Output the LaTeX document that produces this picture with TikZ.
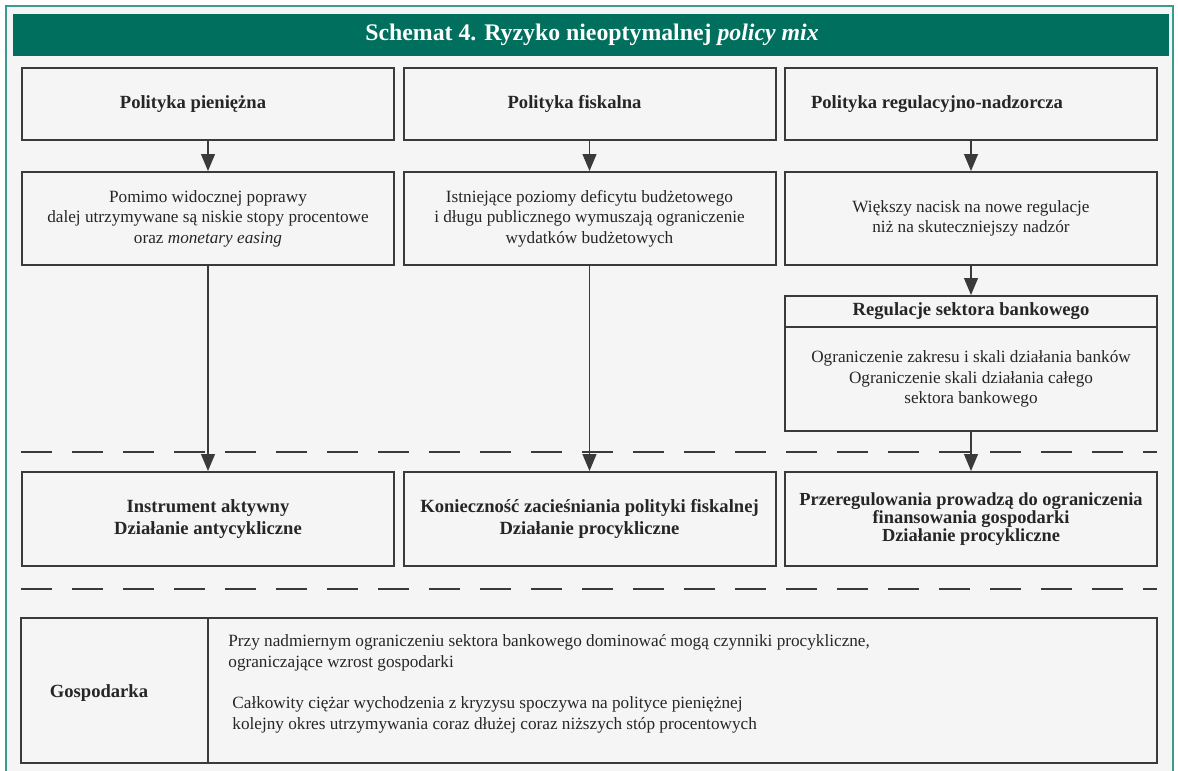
\documentclass[tikz,border=0pt]{standalone}
\usepackage{fontspec}
\setmainfont{Liberation Serif}
\usetikzlibrary{arrows.meta}

\definecolor{headgreen}{HTML}{006F5D}
\definecolor{frameteal}{HTML}{3B9B8E}
\definecolor{panelgrey}{HTML}{F4F5F4}
\definecolor{linegrey}{HTML}{3A3A3A}
\definecolor{textgrey}{HTML}{262626}

\newcommand{\regfont}{\fontsize{8.6}{10.2}\selectfont}
\newcommand{\boldfont}{\fontsize{9.3}{11}\selectfont\bfseries}
\newcommand{\tightfont}{\fontsize{9.2}{9}\selectfont\lineskiplimit=-6pt\bfseries}

\tikzset{
  box/.style={draw=linegrey, line width=1pt, inner sep=0pt, minimum width=186pt,
              align=center, text=textgrey, font=\regfont},
  boldtext/.style={inner sep=0pt, align=center, text=textgrey, font=\boldfont},
  regtext/.style={inner sep=0pt, align=left, text=textgrey, font=\regfont},
  dashes/.style={draw=linegrey, line width=0.7pt, dash pattern=on 15.5pt off 10pt}
}

\begin{document}
\begin{tikzpicture}[x=0.5pt,y=-0.5pt]
	\useasboundingbox (0,0) rectangle (1178,771);
	\fill[white] (0,0) rectangle (1178,771);
	\fill[panelgrey] (6,6) rectangle (1173,780);
	\draw[frameteal, line width=1pt] (6,6) rectangle (1173,780);
	\fill[headgreen] (13,14) rectangle (1169,56);
	\node[text=white, font=\fontsize{11.9}{13}\selectfont\bfseries] (title) at (592,35)
		{Schemat 4. Ryzyko nieoptymalnej \textit{policy mix}};

	\begin{scope}[every node/.style={box}]
		\node[minimum height=36pt] (pp) at (208,104) {};
		\node[minimum height=36pt] (pf) at (589.5,104) {};
		\node[minimum height=36pt] (pr) at (971,104) {};

		\node[minimum height=46.5pt] (pw) at (208,218.5)
			{Pomimo widocznej poprawy\\dalej utrzymywane są niskie stopy procentowe\\oraz \textit{monetary easing}};
		\node[minimum height=46.5pt] (fw) at (589.5,218.5)
			{Istniejące poziomy deficytu budżetowego\\i długu publicznego wymuszają ograniczenie\\wydatków budżetowych};
		\node[minimum height=46.5pt] (rw) at (971,218.5)
			{Większy nacisk na nowe regulacje\\niż na skuteczniejszy nadzór};

		\node[minimum height=15.5pt, font=\boldfont] (rh) at (971,311.5) {Regulacje sektora bankowego};
		\node[minimum height=52pt] (rl) at (971,379)
			{Ograniczenie zakresu i skali działania banków\\Ograniczenie skali działania całego\\sektora bankowego};

		\node[minimum height=47pt, font=\boldfont] (ia) at (208,519)
			{Instrument aktywny\\Działanie antycykliczne};
		\node[minimum height=47pt, font=\boldfont] (kz) at (589.5,519)
			{Konieczność zacieśniania polityki fiskalnej\\Działanie procykliczne};
		\node[minimum height=47pt, font=\tightfont] (pg) at (971,519)
			{Przeregulowania prowadzą do ograniczenia\\finansowania gospodarki\\Działanie procykliczne};

		\node[minimum width=93.5pt, minimum height=72.5pt] (gl) at (114.5,690.5) {};
		\node[minimum width=474.5pt, minimum height=72.5pt] (gr) at (682.5,690.5) {};
	\end{scope}

	% labels of the top boxes
	\node[boldtext] at ([xshift=-7.5pt]pp.center) {Polityka pieniężna};
	\node[boldtext] at ([xshift=-7.5pt]pf.center) {Polityka fiskalna};
	\node[boldtext] at ([xshift=-17pt]pr.center) {Polityka regulacyjno-nadzorcza};
	\node[boldtext] (gosp) at (99,693) {Gospodarka};

	\node[regtext, anchor=west] (gr1) at (228,653)
		{Przy nadmiernym ograniczeniu sektora bankowego dominować mogą czynniki procykliczne,\\ograniczające wzrost gospodarki};
	\node[regtext, anchor=west] (gr2) at (232,715)
		{Całkowity ciężar wychodzenia z kryzysu spoczywa na polityce pieniężnej\\kolejny okres utrzymywania coraz dłużej coraz niższych stóp procentowych};

	% separators
	\coordinate (d1l) at (21,452);
	\coordinate (d1r) at (1157,452);
	\coordinate (d2l) at (21,589);
	\coordinate (d2r) at (1157,589);
	\draw[dashes] (d1l) -- (d1r);
	\draw[dashes] (d2l) -- (d2r);

	\begin{scope}[>={Triangle[width=7pt,length=8.5pt]},
	              every edge/.style={draw=linegrey, line width=0.6pt}]
		\path (pp) edge[->] (pw);
		\path (pf) edge[->] (fw);
		\path (pr) edge[->] (rw);
		\path (pw) edge[->] (ia);
		\path (fw) edge[->] (kz);
		\path (rw) edge[->] (rh);
		\path (rl) edge[->] (pg);
	\end{scope}
\end{tikzpicture}
\end{document}
